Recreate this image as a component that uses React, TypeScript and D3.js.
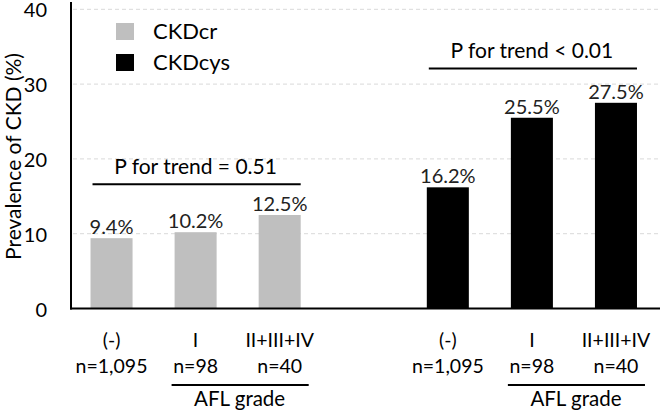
import React from "react";
import * as d3 from "d3";

const categories = ["(-)", "I", "II+III+IV"];
const nLabels = ["n=1,095", "n=98", "n=40"];
const ckdCr = [9.4, 10.2, 12.5];
const ckdCys = [16.2, 25.5, 27.5];
const seriesNames = ["CKDcr", "CKDcys"];
const trendTexts = ["P for trend = 0.51", "P for trend < 0.01"];
const trendLevels = [16.6, 32.1];
const yTicks = [0, 10, 20, 30, 40];
const groupLabel = "AFL grade";
const yTitle = "Prevalence of CKD (%)";

const W = 664;
const H = 413;
const FONT = "Lato, 'Open Sans', sans-serif";
const GRAY = "#bfbfbf";

export default function App() {
  const axisX = 71;
  const axisRight = 660;
  const y = d3.scaleLinear().domain([0, 40]).range([308.5, 9.3]);
  const slots = [
    ...categories.map((c) => "cr|" + c),
    "gap",
    ...categories.map((c) => "cys|" + c),
  ];
  const x = d3
    .scaleBand<string>()
    .domain(slots)
    .range([axisX - 1.5, axisRight - 2])
    .paddingInner(0.5)
    .paddingOuter(0.25);
  const bw = x.bandwidth();

  const groups = [
    { key: "cr", values: ckdCr, color: GRAY },
    { key: "cys", values: ckdCys, color: "#000" },
  ];

  return (
    <div style={{ position: "fixed", left: 0, top: 0 }}>
      <svg width={W} height={H} style={{ display: "block", background: "#fff" }} fontFamily={FONT}>
        {/* gridlines */}
        {yTicks
          .filter((t) => t > 0)
          .map((t) => (
            <line
              key={"g" + t}
              x1={axisX + 2}
              x2={axisRight}
              y1={y(t)}
              y2={y(t)}
              stroke="#d9d9d9"
              strokeWidth={1}
              strokeDasharray="4,3"
            />
          ))}
        {/* y tick labels */}
        {yTicks.map((t) => (
          <text key={"t" + t} x={47} y={y(t)} dy="0.4em" textAnchor="end" fontSize={20} fill="#000">
            {t}
          </text>
        ))}
        {/* y title */}
        <text
          transform={`translate(20.5,${156.5}) rotate(-90)`}
          textAnchor="middle"
          fontSize={21}
          fill="#000"
        >
          {yTitle}
        </text>
        {/* bars */}
        {groups.map((g) =>
          categories.map((c, i) => {
            const bx = x(g.key + "|" + c)!;
            const v = g.values[i];
            return (
              <g key={g.key + i}>
                <rect x={bx} y={y(v)} width={bw} height={y(0) - y(v)} fill={g.color} />
                <text x={bx + bw / 2} y={y(v) - 4} textAnchor="middle" fontSize={20} fill="#222">
                  {v.toFixed(1) + "%"}
                </text>
              </g>
            );
          })
        )}
        {/* axes */}
        <line x1={axisX} x2={axisX} y1={2} y2={y(0) + 1} stroke="#000" strokeWidth={2} />
        <line x1={axisX - 1} x2={axisRight} y1={y(0)} y2={y(0)} stroke="#000" strokeWidth={2} />
        {/* trend annotations */}
        {groups.map((g, gi) => {
          const x0 = x(g.key + "|" + categories[0])!;
          const x1 = x(g.key + "|" + categories[categories.length - 1])! + bw;
          const ly = y(trendLevels[gi]);
          return (
            <g key={"tr" + gi}>
              <line x1={x0 + 2} x2={x1} y1={ly} y2={ly} stroke="#000" strokeWidth={2} />
              <text x={(x0 + x1) / 2} y={ly - 10} textAnchor="middle" fontSize={21} fill="#000">
                {trendTexts[gi]}
              </text>
            </g>
          );
        })}
        {/* legend */}
        {groups.map((g, gi) => (
          <g key={"lg" + gi} transform={`translate(116,${23 + gi * 31})`}>
            <rect width={18} height={17} fill={g.color} />
            <text x={37} y={8.5} dy="0.36em" fontSize={22} fill="#000">
              {seriesNames[gi]}
            </text>
          </g>
        ))}
        {/* x labels */}
        {groups.map((g, gi) => {
          const b1 = x(g.key + "|" + categories[1])!;
          const b2 = x(g.key + "|" + categories[2])! + bw;
          return (
            <g key={"xl" + gi}>
              {categories.map((c, i) => {
                const cx = x(g.key + "|" + c)! + bw / 2;
                return (
                  <g key={i}>
                    <text x={cx} y={346.5} textAnchor="middle" fontSize={19.5} fill="#000">
                      {c}
                    </text>
                    <text x={cx} y={372.5} textAnchor="middle" fontSize={19.5} fill="#000">
                      {nLabels[i]}
                    </text>
                  </g>
                );
              })}
              <line x1={b1 - 3} x2={b2 + 8} y1={385} y2={385} stroke="#000" strokeWidth={2} />
              <text x={(b1 + b2) / 2 + 2} y={406} textAnchor="middle" fontSize={20.5} fill="#000">
                {groupLabel}
              </text>
            </g>
          );
        })}
      </svg>
    </div>
  );
}
